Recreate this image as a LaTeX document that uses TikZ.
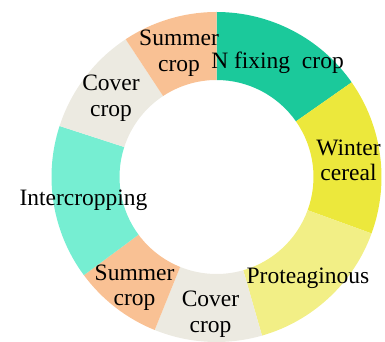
\documentclass[tikz,border=0pt]{standalone}
\usepackage{fontspec}
\setmainfont{Liberation Serif}
\usetikzlibrary{calc}
\definecolor{nfix}{HTML}{1BC99B}
\definecolor{winter}{HTML}{ECE83C}
\definecolor{prot}{HTML}{F2EF86}
\definecolor{cover}{HTML}{ECEAE1}
\definecolor{summer}{HTML}{F9C194}
\definecolor{inter}{HTML}{76EED2}
\tikzset{
  lbl/.style={anchor=base, align=center, inner sep=0pt, font=\fontsize{23.5}{25.8}\selectfont, text=black}
}
\newcommand{\donutseg}[3]{%
  \fill[#1] ($(c)+(#2:165)$) arc[start angle=#2, end angle=#3, radius=165]
    -- ($(c)+(#3:97)$) arc[start angle=#3, end angle=#2, radius=97] -- cycle;}
\begin{document}
\begin{tikzpicture}[x=1pt,y=1pt]
\useasboundingbox (0,0) rectangle (385,342);
\coordinate (c) at (216.5,165);
\donutseg{nfix}{35}{90}
\donutseg{winter}{-20}{35}
\donutseg{prot}{-74}{-20}
\donutseg{cover}{-112}{-74}
\donutseg{summer}{216.5}{248}
\donutseg{inter}{162}{216.5}
\donutseg{cover}{123.4}{162}
\donutseg{summer}{90}{123.4}
\node[lbl] (sumtop) at (179,270.3) {Summer\\crop};
\node[lbl] (nfixlbl) at (277.5,273.7) {N fixing\ \ crop};
\node[lbl] (covtop) at (111,225.3) {Cover\\crop};
\node[lbl] (winlbl) at (348.5,161) {Winter\\cereal};
\node[lbl] (intlbl) at (83.5,136) {Intercropping};
\node[lbl] (protlbl) at (308,58) {Proteaginous};
\node[lbl] (sumbot) at (134.5,36) {Summer\\crop};
\node[lbl] (covbot) at (210.5,9.3) {Cover\\crop};
\end{tikzpicture}
\end{document}
